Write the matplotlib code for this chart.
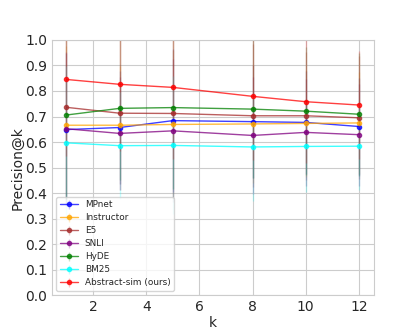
import numpy as np
import matplotlib
matplotlib.use("Agg")
import matplotlib.pyplot as plt
import seaborn as sns

sns.set_style("whitegrid")
plt.rcParams["xtick.major.size"] = 0
plt.rcParams["ytick.major.size"] = 0

ks = [1, 3, 5, 8, 10, 12]

mpnet = [0.649, 0.657, 0.684, 0.680, 0.677, 0.661]
instructor = [0.666, 0.666, 0.669, 0.671, 0.673, 0.675]
e5 = [0.736, 0.713, 0.712, 0.703, 0.703, 0.695]
snli = [0.652, 0.634, 0.644, 0.626, 0.638, 0.629]
hyde = [0.706, 0.732, 0.735, 0.729, 0.721, 0.709]
bm25 = [0.597, 0.586, 0.587, 0.581, 0.583, 0.584]
abstract_sim = [0.845, 0.826, 0.814, 0.779, 0.758, 0.745]

# spread (std) of each method at each k
mpnet_std = [0.30, 0.22, 0.28, 0.22, 0.20, 0.19]
instructor_std = [0.31, 0.23, 0.29, 0.23, 0.21, 0.20]
e5_std = [0.36, 0.30, 0.33, 0.28, 0.25, 0.24]
snli_std = [0.30, 0.22, 0.28, 0.23, 0.21, 0.20]
hyde_std = [0.33, 0.28, 0.32, 0.27, 0.25, 0.24]
bm25_std = [0.30, 0.21, 0.27, 0.21, 0.18, 0.17]
abstract_sim_std = [0.30, 0.26, 0.28, 0.25, 0.24, 0.21]

series = [
    ("MPnet", mpnet, mpnet_std, "blue"),
    ("Instructor", instructor, instructor_std, "orange"),
    ("E5", e5, e5_std, "brown"),
    ("SNLI", snli, snli_std, "purple"),
    ("HyDE", hyde, hyde_std, "green"),
    ("BM25", bm25, bm25_std, "cyan"),
    ("Abstract-sim (ours)", abstract_sim, abstract_sim_std, "red"),
]

fig, ax = plt.subplots(figsize=(4.15, 3.32), dpi=100)
for name, vals, std, col in series:
    ax.errorbar(ks, vals, yerr=std, color=col, marker="o", markersize=3,
                linewidth=1, alpha=0.75, elinewidth=1, ecolor=col,
                label=name)
# fade the error bars relative to the lines
for coll in ax.collections:
    coll.set_alpha(0.22)

ax.set_ylim(0, 1.0)
ax.set_yticks(np.arange(0, 1.01, 0.1))
ax.set_xticks([2, 4, 6, 8, 10, 12])
ax.set_xlabel("k", labelpad=1)
ax.set_ylabel("Precision@k", labelpad=0.5)
ax.legend(loc="lower left", fontsize=6.4, labelspacing=0.45)
plt.savefig("out.png")
